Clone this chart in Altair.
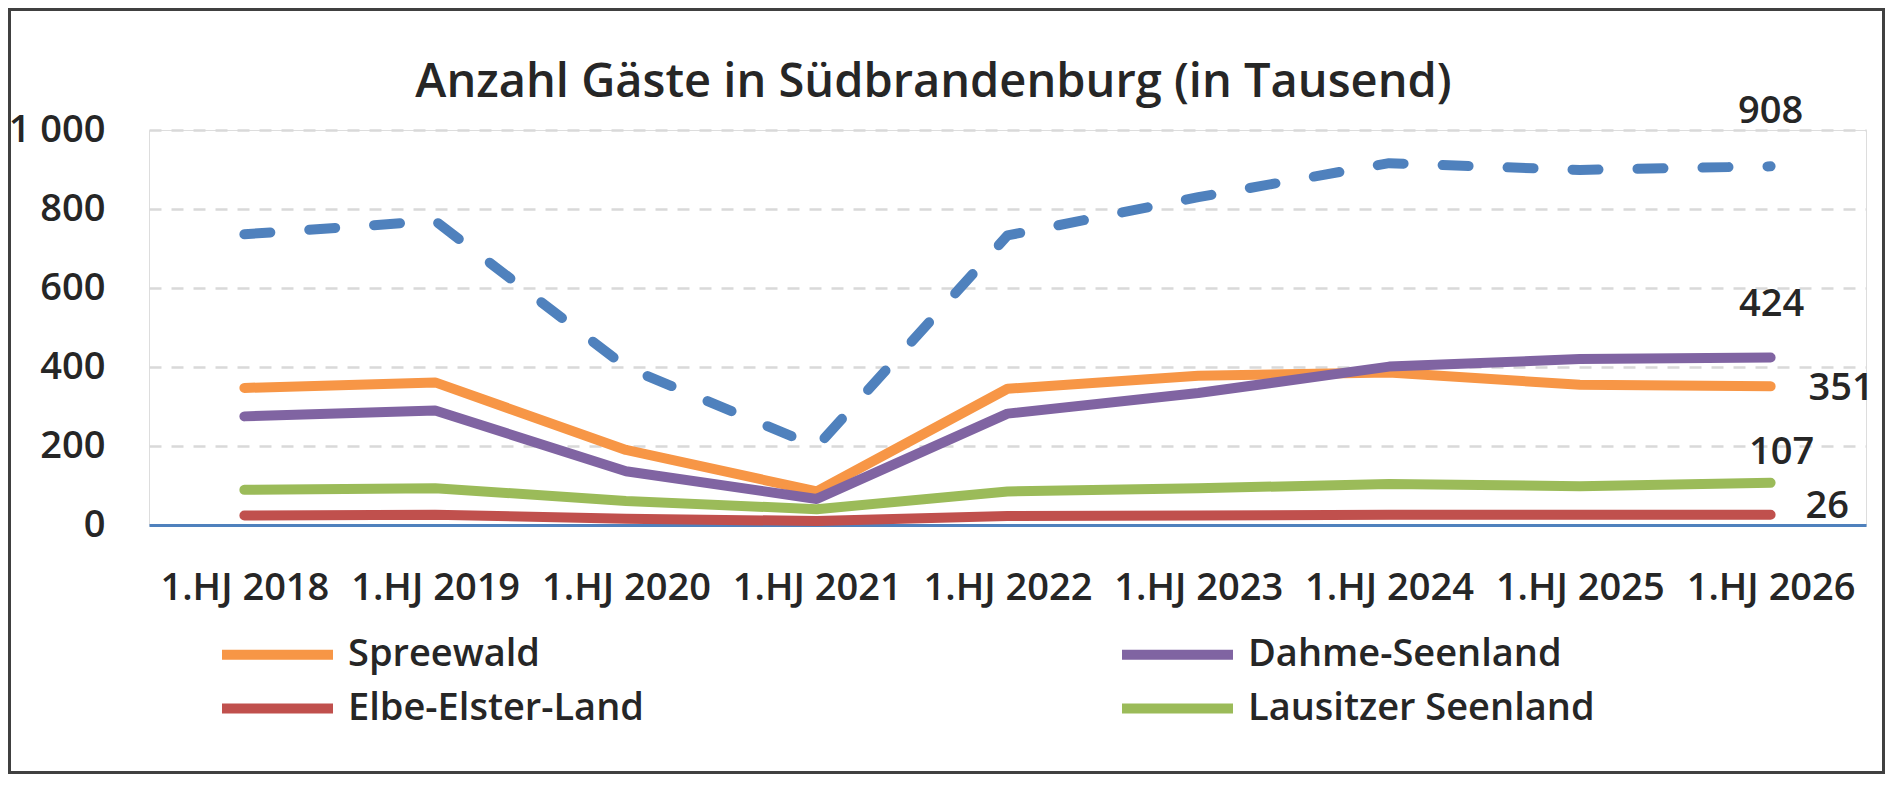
import altair as alt
import pandas as pd

zeitraum = ["1.HJ 2018", "1.HJ 2019", "1.HJ 2020", "1.HJ 2021", "1.HJ 2022",
            "1.HJ 2023", "1.HJ 2024", "1.HJ 2025", "1.HJ 2026"]

spreewald = [347, 361, 190, 85, 345, 378, 386, 355, 351]
dahme_seenland = [275, 290, 136, 66, 282, 334, 401, 420, 424]
elbe_elster_land = [24, 26, 16, 10, 23, 24, 26, 26, 26]
lausitzer_seenland = [89, 93, 61, 40, 85, 93, 104, 98, 107]
suedbrandenburg = [736, 770, 400, 198, 733, 830, 916, 899, 908]

regionen = ["Spreewald", "Dahme-Seenland", "Elbe-Elster-Land", "Lausitzer Seenland"]
farben = ["#F79646", "#8064A2", "#C0504D", "#9BBB59"]
y_ticks = [0, 200, 400, 600, 800, 1000]

FONT = "Open Sans"
TEXT = "#262626"

werte = dict(zip(regionen, [spreewald, dahme_seenland, elbe_elster_land, lausitzer_seenland]))
df_regionen = pd.DataFrame(
    [{"Zeitraum": z, "Region": r, "Gäste": v} for r in regionen for z, v in zip(zeitraum, werte[r])]
)
df_gesamt = pd.DataFrame({"Zeitraum": zeitraum, "Gäste": suedbrandenburg})

x_axis = alt.X("Zeitraum:N", sort=zeitraum, title=None,
               scale=alt.Scale(type="point", padding=0.5),
               axis=alt.Axis(labelAngle=0, labelPadding=44, ticks=False, tickSize=0,
                             domainColor="#4F81BD", domainWidth=3, grid=False,
                             labelFontSize=38, labelFontWeight=600, labelColor=TEXT, labelFont=FONT))
y_axis = alt.Y("Gäste:Q", title=None,
               scale=alt.Scale(domain=[0, 1000], nice=False),
               axis=alt.Axis(values=y_ticks, domain=False, ticks=False, tickSize=0, labelPadding=44,
                             gridDash=[12, 10], gridColor="#D9D9D9", gridWidth=2.5,
                             labelExpr="replace(format(datum.value, ','), ',', ' ')",
                             labelFontSize=38, labelFontWeight=600, labelColor=TEXT, labelFont=FONT))

gesamt = alt.Chart(df_gesamt).mark_line(
    color="#4F81BD", strokeWidth=10, strokeDash=[26, 39], strokeCap="round", strokeJoin="round"
).encode(x=x_axis, y=y_axis)

# breites Linien-Symbol, ohne dass die Legendenzeile dadurch hoch wird
linien = alt.Chart(df_regionen).mark_line(
    strokeWidth=10, strokeCap="round", strokeJoin="round"
).encode(
    x=x_axis, y=y_axis,
    color=alt.Color("Region:N", sort=regionen,
                    scale=alt.Scale(domain=regionen, range=farben),
                    legend=alt.Legend(title=None, orient="none", legendX=105, legendY=501,
                                      direction="horizontal", columns=2, columnPadding=458,
                                      rowPadding=10, padding=0,
                                      symbolType="M-3,0L3,0", symbolSize=1369, symbolStrokeWidth=10,
                                      labelFontSize=38, labelFont=FONT, labelFontWeight=600,
                                      labelColor=TEXT, labelOffset=47, labelLimit=0)),
    detail="Region:N",
)

# Beschriftung am letzten Punkt jeder Reihe
label_lage = {
    "Südbrandenburg": dict(dx=0, dy=-54, align="center"),
    "Dahme-Seenland": dict(dx=1, dy=-53, align="center"),
    "Spreewald": dict(dx=38, dy=3, align="left"),
    "Lausitzer Seenland": dict(dx=11, dy=-30, align="center"),
    "Elbe-Elster-Land": dict(dx=35, dy=-8, align="left"),
}
reihen = dict(werte)
reihen["Südbrandenburg"] = suedbrandenburg
labels = []
for name, lage in label_lage.items():
    df_l = pd.DataFrame({"Zeitraum": [zeitraum[-1]], "Gäste": [reihen[name][-1]]})
    labels.append(
        alt.Chart(df_l).mark_text(baseline="middle", fontSize=38, font=FONT, fontWeight=600,
                                  color=TEXT, **lage)
        .encode(x=x_axis, y=y_axis, text="Gäste:Q")
    )

rahmen = alt.Chart(pd.DataFrame({"a": [0]})).mark_rect(
    fill=None, stroke="#404040", strokeWidth=3
).encode(x=alt.value(-139.5), x2=alt.value(1734.5), y=alt.value(-120.5), y2=alt.value(642.5))

chart = alt.layer(gesamt, linien, *labels, rahmen).properties(
    width=1717, height=395,
    autosize=alt.AutoSizeParams(type="none"),
    padding={"left": 141, "top": 122, "right": 19, "bottom": 249},
    title=alt.TitleParams("Anzahl Gäste in Südbrandenburg (in Tausend)", fontSize=47, fontWeight=600,
                          font=FONT, color=TEXT, anchor="middle", baseline="alphabetic",
                          dx=-74, dy=136, offset=0),
).configure_view(strokeWidth=0).configure(background="white")

chart.save("out.html", embed_options={"renderer": "svg", "actions": False})
